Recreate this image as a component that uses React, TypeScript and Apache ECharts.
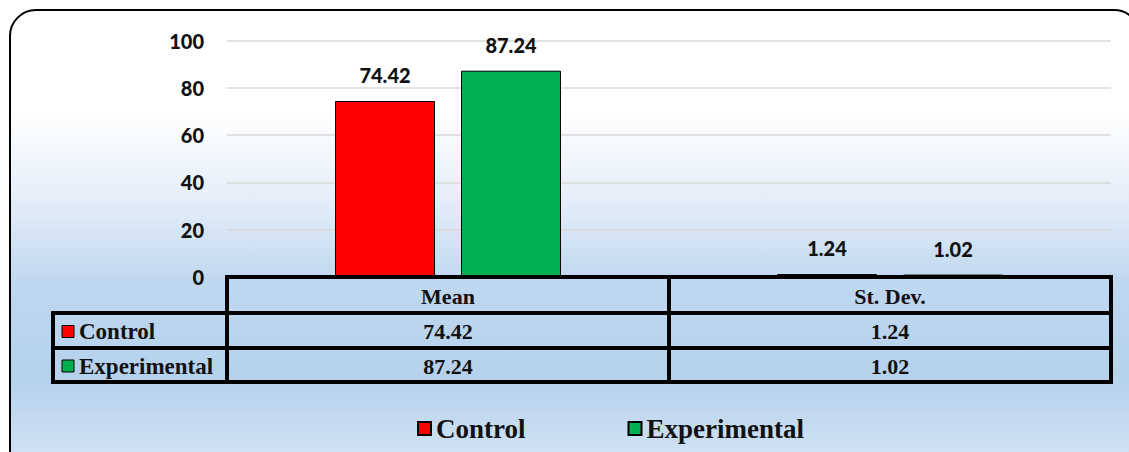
import React, { useEffect, useRef } from "react";
import * as echarts from "echarts";

const categories = ["Mean", "St. Dev."];
const seriesNames = ["Control", "Experimental"];
const controlValues = [74.42, 1.24];
const experimentalValues = [87.24, 1.02];
const seriesColors = ["#ff0000", "#00b050"];
const yMin = 0;
const yMax = 100;
const yInterval = 20;

const W = 1129;
const H = 452;
const GRID_LEFT = 227;
const GRID_RIGHT_X = 1111;
const GRID_TOP = 40.5;
const GRID_BOTTOM_Y = 277;
const ROW_Y = [277, 313, 348, 382];
const LABEL_COL_X = 53;

const sansBold = { fontFamily: "Lato", fontWeight: 900 as const };
const serifFont = "Liberation Serif";

function txt(text: string, x: number, y: number, align: string, size: number) {
  return {
    type: "text",
    z: 12,
    style: {
      text,
      x,
      y,
      align,
      textAlign: align,
      verticalAlign: "middle",
      textVerticalAlign: "middle",
      fontFamily: serifFont,
      fontWeight: "bold",
      fontSize: size,
      fill: "#111",
    },
  };
}

function hline(x1: number, x2: number, y: number) {
  return {
    type: "line",
    z: 11,
    shape: { x1, y1: y, x2, y2: y },
    style: { stroke: "#000", lineWidth: 4 },
  };
}

function vline(x: number, y1: number, y2: number) {
  return {
    type: "line",
    z: 11,
    shape: { x1: x, y1, x2: x, y2 },
    style: { stroke: "#000", lineWidth: 4 },
  };
}

export default function App() {
  const ref = useRef<HTMLDivElement>(null);

  useEffect(() => {
    if (!ref.current) return;
    const chart = echarts.init(ref.current, null, { renderer: "svg" });

    const seriesValues = [controlValues, experimentalValues];
    const catW = (GRID_RIGHT_X - GRID_LEFT) / categories.length;

    const graphics: any[] = [];
    graphics.push({
      type: "rect",
      z: -10,
      silent: true,
      shape: { x: 10, y: 10, width: 1130, height: 470, r: 26 },
      style: {
        fill: new echarts.graphic.LinearGradient(0, 0, 0, 1, [
          { offset: 0, color: "#ffffff" },
          { offset: 0.22, color: "#ffffff" },
          { offset: 0.4, color: "#e5eef9" },
          { offset: 0.58, color: "#bfd8ef" },
          { offset: 0.78, color: "#b5d1ec" },
          { offset: 1, color: "#d8e7f5" },
        ]),
        stroke: "#000",
        lineWidth: 2,
      },
    });

    graphics.push(hline(GRID_LEFT - 2, GRID_RIGHT_X + 2, ROW_Y[0]));
    for (let r = 1; r < ROW_Y.length; r++) {
      graphics.push(hline(LABEL_COL_X - 2, GRID_RIGHT_X + 2, ROW_Y[r]));
    }
    for (let c = 0; c <= categories.length; c++) {
      graphics.push(vline(GRID_LEFT + c * catW, ROW_Y[0], ROW_Y[ROW_Y.length - 1] + 2));
    }
    graphics.push(vline(LABEL_COL_X, ROW_Y[1] - 2, ROW_Y[ROW_Y.length - 1] + 2));

    categories.forEach((cat, i) => {
      const cx = GRID_LEFT + (i + 0.5) * catW;
      graphics.push(txt(cat, cx, (ROW_Y[0] + ROW_Y[1]) / 2 + 1, "center", 22));
    });

    seriesNames.forEach((name, s) => {
      const cy = (ROW_Y[s + 1] + ROW_Y[s + 2]) / 2 + 1;
      graphics.push({
        type: "rect",
        z: 12,
        shape: { x: 62, y: cy - 6, width: 12, height: 12 },
        style: { fill: seriesColors[s], stroke: "#000", lineWidth: 1 },
      });
      graphics.push(txt(name, 79, cy, "left", 23));
      seriesValues[s].forEach((v, i) => {
        const cx = GRID_LEFT + (i + 0.5) * catW;
        graphics.push(txt(v.toFixed(2), cx, cy, "center", 22));
      });
    });

    const option: any = {
      animation: false,
      backgroundColor: "#ffffff",
      grid: {
        left: GRID_LEFT,
        right: W - GRID_RIGHT_X,
        top: GRID_TOP,
        bottom: H - GRID_BOTTOM_Y,
        containLabel: false,
      },
      legend: {
        data: seriesNames,
        left: 412,
        top: 410,
        icon: "rect",
        itemWidth: 13,
        itemHeight: 13,
        itemGap: 102,
        textStyle: {
          fontFamily: serifFont,
          fontWeight: "bold",
          fontSize: 27,
          color: "#111",
        },
      },
      xAxis: {
        type: "category",
        data: categories,
        axisLine: { show: false },
        axisTick: { show: false },
        axisLabel: { show: false },
      },
      yAxis: {
        type: "value",
        min: yMin,
        max: yMax,
        interval: yInterval,
        axisLine: { show: false },
        axisTick: { show: false },
        splitLine: { lineStyle: { color: "#d9d9d9", width: 1.5 } },
        axisLabel: {
          margin: 23,
          color: "#111",
          fontSize: 20,
          ...sansBold,
        },
      },
      series: seriesNames.map((name, s) => ({
        name,
        type: "bar",
        data: seriesValues[s],
        barWidth: 100,
        barGap: "26%",
        itemStyle: {
          color: seriesColors[s],
          borderColor: "#000",
          borderWidth: 1,
        },
        label: {
          show: true,
          position: "top",
          distance: 16,
          color: "#111",
          fontSize: 20,
          ...sansBold,
          formatter: (p: any) => Number(p.value).toFixed(2),
        },
      })),
      graphic: graphics,
    };

    chart.setOption(option);
    return () => chart.dispose();
  }, []);

  return (
    <div
      ref={ref}
      style={{ position: "absolute", left: 0, top: 0, width: W, height: H }}
    />
  );
}
